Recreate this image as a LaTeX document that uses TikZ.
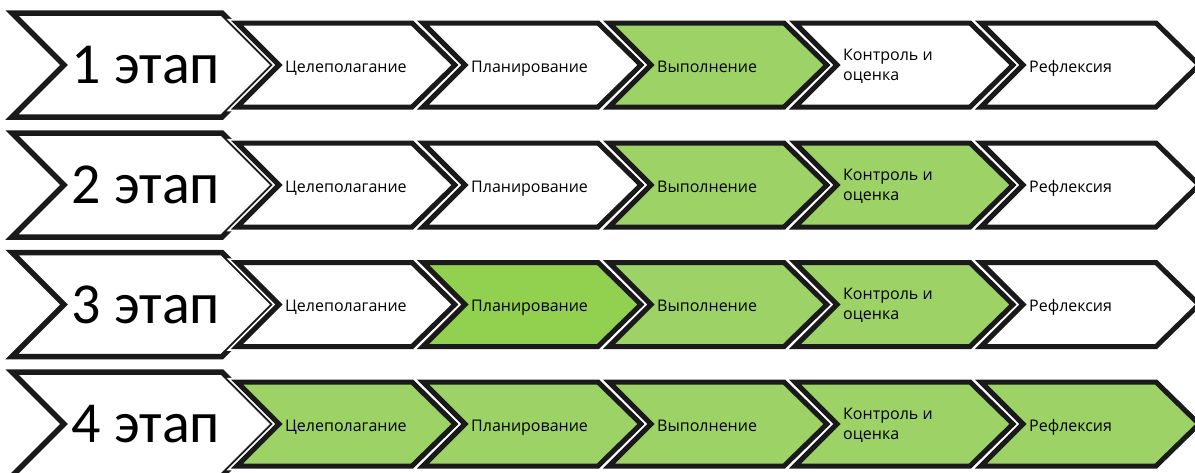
\documentclass[tikz,border=0pt]{standalone}
\usepackage{fontspec}
\setmainfont{Carlito}
\newfontfamily\stepfont{Open Sans}
\usepackage{tikz}
\usetikzlibrary{positioning}
\definecolor{stepgreen}{HTML}{9DD366}
\definecolor{stepgreendark}{HTML}{92D050}
\definecolor{stepline}{HTML}{1A1A1A}

\tikzset{
  stagearrow/.style={draw=stepline, line width=5.5pt, fill=white, line join=miter},
  steparrow/.style={draw=stepline, line width=5pt, line join=miter,
    preaction={draw=white, line width=8.5pt}},
  steptext/.style={font=\stepfont\fontsize{16}{20}\selectfont, anchor=base west, align=left, inner sep=0pt},
  stagetext/.style={font=\fontsize{58}{60}\selectfont, inner sep=0pt}
}

\begin{document}
\begin{tikzpicture}[x=1pt, y=-1pt]
  \useasboundingbox (0,0) rectangle (1195,472);

  % ── Row 1 ──
  \begin{scope}[shift={(0,65)}]
    \draw[stagearrow] (12,-52) -- (222,-52) -- (274,0) -- (222,52) -- (12,52) -- (64,0) -- cycle;
    \node[stagetext] (stage1) at (146,0) {1 этап};
    \foreach \i/\col in {0/white,1/white,2/stepgreen,3/white,4/white} {
      \draw[steparrow, fill=\col] ({237+186*\i},-42) -- ({412+186*\i},-42) -- ({455+186*\i},0)
        -- ({412+186*\i},42) -- ({237+186*\i},42) -- ({279+186*\i},0) -- cycle;
    }
    \foreach \i/\txt/\dy in {0/Целеполагание/7,1/Планирование/7,2/Выполнение/7,3/{Контроль и\\оценка}/15,4/Рефлексия/7}
      \node[steptext] (s1-\i) at ({285+186*\i},\dy) {\txt};
  \end{scope}

  % ── Row 2 ──
  \begin{scope}[shift={(0,185)}]
    \draw[stagearrow] (12,-52) -- (222,-52) -- (274,0) -- (222,52) -- (12,52) -- (64,0) -- cycle;
    \node[stagetext] (stage2) at (146,0) {2 этап};
    \foreach \i/\col in {0/white,1/white,2/stepgreen,3/stepgreen,4/white} {
      \draw[steparrow, fill=\col] ({237+186*\i},-42) -- ({412+186*\i},-42) -- ({455+186*\i},0)
        -- ({412+186*\i},42) -- ({237+186*\i},42) -- ({279+186*\i},0) -- cycle;
    }
    \foreach \i/\txt/\dy in {0/Целеполагание/7,1/Планирование/7,2/Выполнение/7,3/{Контроль и\\оценка}/15,4/Рефлексия/7}
      \node[steptext] (s2-\i) at ({285+186*\i},\dy) {\txt};
  \end{scope}

  % ── Row 3 ──
  \begin{scope}[shift={(0,304.5)}]
    \draw[stagearrow] (12,-52) -- (222,-52) -- (274,0) -- (222,52) -- (12,52) -- (64,0) -- cycle;
    \node[stagetext] (stage3) at (146,0) {3 этап};
    \foreach \i/\col in {0/white,1/stepgreendark,2/stepgreen,3/stepgreen,4/white} {
      \draw[steparrow, fill=\col] ({237+186*\i},-42) -- ({412+186*\i},-42) -- ({455+186*\i},0)
        -- ({412+186*\i},42) -- ({237+186*\i},42) -- ({279+186*\i},0) -- cycle;
    }
    \foreach \i/\txt/\dy in {0/Целеполагание/7,1/Планирование/7,2/Выполнение/7,3/{Контроль и\\оценка}/15,4/Рефлексия/7}
      \node[steptext] (s3-\i) at ({285+186*\i},\dy) {\txt};
  \end{scope}

  % ── Row 4 ──
  \begin{scope}[shift={(0,424)}]
    \draw[stagearrow] (12,-52) -- (222,-52) -- (274,0) -- (222,52) -- (12,52) -- (64,0) -- cycle;
    \node[stagetext] (stage4) at (146,0) {4 этап};
    \foreach \i/\col in {0/stepgreen,1/stepgreen,2/stepgreen,3/stepgreen,4/stepgreen} {
      \draw[steparrow, fill=\col] ({237+186*\i},-42) -- ({412+186*\i},-42) -- ({455+186*\i},0)
        -- ({412+186*\i},42) -- ({237+186*\i},42) -- ({279+186*\i},0) -- cycle;
    }
    \foreach \i/\txt/\dy in {0/Целеполагание/7,1/Планирование/7,2/Выполнение/7,3/{Контроль и\\оценка}/15,4/Рефлексия/7}
      \node[steptext] (s4-\i) at ({285+186*\i},\dy) {\txt};
  \end{scope}
\end{tikzpicture}
\end{document}
